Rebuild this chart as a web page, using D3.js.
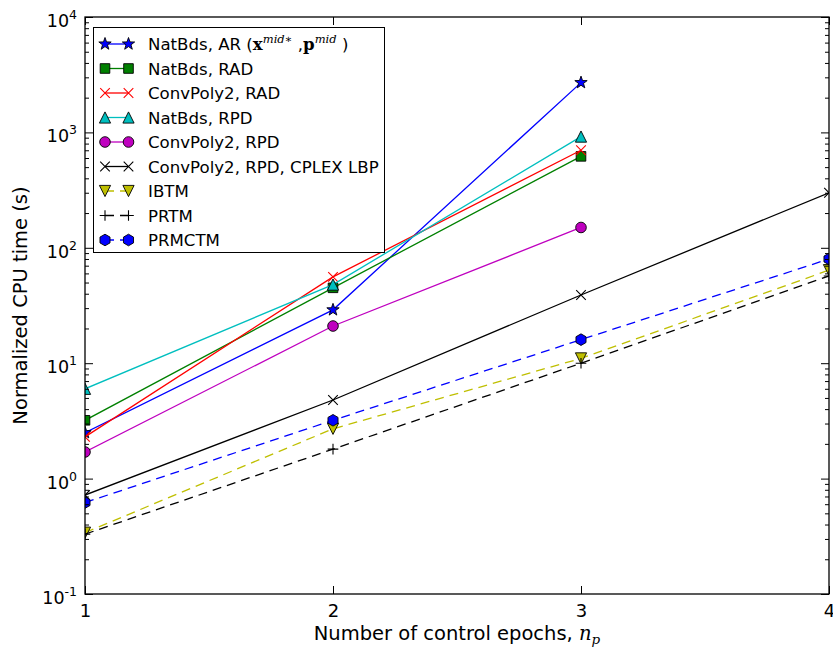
<!DOCTYPE html>
<html>
<head>
<meta charset="utf-8">
<script src="https://cdn.jsdelivr.net/npm/d3@7"></script>
<style>
  body { margin: 0; background: #fff; }
  text { font-family: "DejaVu Sans", sans-serif; fill: #000; }
</style>
</head>
<body>
<div class="chart"></div>
<script>
// CPU time vs number of control epochs, log scale

var svgWidth = 833;
var svgHeight = 650;

var margin = {
  top: 17,
  right: 4,
  bottom: 56,
  left: 85
};

var width = svgWidth - margin.left - margin.right;
var height = svgHeight - margin.top - margin.bottom;

// data
var epochs = [1, 2, 3, 4];
var natBdsAR = [2.5, 29, 2700];
var natBdsRAD = [3.2, 45, 620];
var convPoly2RAD = [2.3, 56, 700];
var natBdsRPD = [6.0, 48, 920];
var convPoly2RPD = [1.7, 21, 150];
var convPoly2Cplex = [0.72, 4.8, 39, 300];
var ibtm = [0.34, 2.7, 11, 64];
var prtm = [0.33, 1.8, 10, 57];
var prmctm = [0.62, 3.2, 16, 80];

var yMajorTicks = [0.1, 1, 10, 100, 1000, 10000];
var yTickExponents = ["-1", "0", "1", "2", "3", "4"];

var series = [
  {label: "NatBds, AR", values: natBdsAR, color: "#0000ff", marker: "star", dash: null},
  {label: "NatBds, RAD", values: natBdsRAD, color: "#008000", marker: "square", dash: null},
  {label: "ConvPoly2, RAD", values: convPoly2RAD, color: "#ff0000", marker: "x", dash: null},
  {label: "NatBds, RPD", values: natBdsRPD, color: "#00bfbf", marker: "triUp", dash: null},
  {label: "ConvPoly2, RPD", values: convPoly2RPD, color: "#bf00bf", marker: "circle", dash: null},
  {label: "ConvPoly2, RPD, CPLEX LBP", values: convPoly2Cplex, color: "#000000", marker: "x", dash: null},
  {label: "IBTM", values: ibtm, color: "#bfbf00", marker: "triDown", dash: "9,6"},
  {label: "PRTM", values: prtm, color: "#000000", marker: "plus", dash: "9,6"},
  {label: "PRMCTM", values: prmctm, color: "#0000ff", marker: "hexagon", dash: "9,6"}
];

var svg = d3.select(".chart")
  .append("svg")
  .attr("width", svgWidth)
  .attr("height", svgHeight);

svg.append("rect")
  .attr("width", svgWidth)
  .attr("height", svgHeight)
  .attr("fill", "#fff");

var chartGroup = svg.append("g")
  .attr("transform", `translate(${margin.left}, ${margin.top})`);

var xScale = d3.scaleLinear()
  .domain([1, 4])
  .range([0, width]);

var yScale = d3.scaleLog()
  .domain([0.1, 10000])
  .range([height, 0]);

// minor ticks 2..9 in every decade
var yMinorTicks = [];
yMajorTicks.slice(0, -1).forEach(function (d) {
  for (var k = 2; k < 10; k++) yMinorTicks.push(d * k);
});

svg.append("defs").append("clipPath")
  .attr("id", "plotClip")
  .append("rect")
  .attr("width", width)
  .attr("height", height);

// marker shapes
function markerPath(type) {
  var p = d3.path();
  var i, a, r;
  if (type == "circle") {
    p.arc(0, 0, 5.3, 0, 2 * Math.PI);
  } else if (type == "square") {
    p.rect(-4.8, -4.8, 9.6, 9.6);
  } else if (type == "triUp") {
    p.moveTo(0, -5.6); p.lineTo(-5.6, 5.6); p.lineTo(5.6, 5.6); p.closePath();
  } else if (type == "triDown") {
    p.moveTo(0, 5.6); p.lineTo(-5.6, -5.6); p.lineTo(5.6, -5.6); p.closePath();
  } else if (type == "hexagon") {
    for (i = 0; i < 6; i++) {
      a = -Math.PI / 2 + i * Math.PI / 3;
      if (i == 0) p.moveTo(5.8 * Math.cos(a), 5.8 * Math.sin(a));
      else p.lineTo(5.8 * Math.cos(a), 5.8 * Math.sin(a));
    }
    p.closePath();
  } else if (type == "star") {
    for (i = 0; i < 10; i++) {
      r = i % 2 == 0 ? 6.5 : 2.6;
      a = -Math.PI / 2 + i * Math.PI / 5;
      if (i == 0) p.moveTo(r * Math.cos(a), r * Math.sin(a));
      else p.lineTo(r * Math.cos(a), r * Math.sin(a));
    }
    p.closePath();
  } else if (type == "x") {
    p.moveTo(-4.8, -4.8); p.lineTo(4.8, 4.8);
    p.moveTo(-4.8, 4.8); p.lineTo(4.8, -4.8);
  } else if (type == "plus") {
    p.moveTo(-5.3, 0); p.lineTo(5.3, 0);
    p.moveTo(0, -5.3); p.lineTo(0, 5.3);
  }
  return p.toString();
}

function drawMarker(g, s, cx, cy) {
  var open = s.marker == "x" || s.marker == "plus";
  g.append("path")
    .attr("d", markerPath(s.marker))
    .attr("transform", `translate(${cx}, ${cy})`)
    .attr("fill", open ? "none" : s.color)
    .attr("stroke", open ? s.color : "#000")
    .attr("stroke-width", open ? 1.1 : 0.9);
}

// series lines and markers
var plotGroup = chartGroup.append("g")
  .attr("clip-path", "url(#plotClip)");

var line = d3.line()
  .x((d, i) => xScale(epochs[i]))
  .y(d => yScale(d));

series.forEach(function (s) {
  var g = plotGroup.append("g");
  g.append("path")
    .datum(s.values)
    .attr("d", line)
    .attr("fill", "none")
    .attr("stroke", s.color)
    .attr("stroke-width", 1.3)
    .attr("stroke-dasharray", s.dash);
  s.values.forEach(function (v, i) {
    drawMarker(g, s, xScale(epochs[i]), yScale(v));
  });
});

// axes: ticks pointing inward on all four sides
var leftAxis = d3.axisLeft(yScale).tickValues(yMajorTicks).tickSize(-8).tickFormat("");
var leftMinor = d3.axisLeft(yScale).tickValues(yMinorTicks).tickSize(-4).tickFormat("");
var rightAxis = d3.axisRight(yScale).tickValues(yMajorTicks).tickSize(-8).tickFormat("");
var rightMinor = d3.axisRight(yScale).tickValues(yMinorTicks).tickSize(-4).tickFormat("");
var bottomAxis = d3.axisBottom(xScale).tickValues(epochs).tickSize(-8).tickPadding(10).tickFormat(d3.format("d"));
var topAxis = d3.axisTop(xScale).tickValues(epochs).tickSize(-8).tickFormat("");

chartGroup.append("g").call(leftAxis);
chartGroup.append("g").call(leftMinor);
chartGroup.append("g").attr("transform", `translate(${width}, 0)`).call(rightAxis);
chartGroup.append("g").attr("transform", `translate(${width}, 0)`).call(rightMinor);
var xAxis = chartGroup.append("g")
  .attr("transform", `translate(0, ${height})`)
  .call(bottomAxis);
chartGroup.append("g").call(topAxis);

chartGroup.selectAll(".domain").remove();
chartGroup.selectAll(".tick line").attr("stroke", "#000").attr("stroke-width", 1);

xAxis.selectAll("text")
  .style("font-size", "18px")
  .style("font-family", "DejaVu Sans");

// y tick labels as 10 with exponent
chartGroup.selectAll(".ylab")
  .data(yMajorTicks)
  .enter()
  .append("text")
  .attr("class", "ylab")
  .attr("x", -8)
  .attr("y", d => yScale(d) + 10)
  .attr("text-anchor", "end")
  .style("font-size", "17.5px")
  .each(function (d, i) {
    var t = d3.select(this);
    t.append("tspan").text("10");
    t.append("tspan").attr("dy", -8).style("font-size", "12.5px").text(yTickExponents[i]);
  });

// frame
chartGroup.append("rect")
  .attr("width", width)
  .attr("height", height)
  .attr("fill", "none")
  .attr("stroke", "#000")
  .attr("stroke-width", 1.3);

// axis titles
var xTitle = svg.append("text")
  .attr("x", margin.left + width / 2)
  .attr("y", 640)
  .attr("text-anchor", "middle")
  .style("font-size", "19.5px");
xTitle.append("tspan").text("Number of control epochs, ");
xTitle.append("tspan").style("font-family", "DejaVu Serif").style("font-style", "italic").text("n");
xTitle.append("tspan").attr("dy", 4).style("font-family", "DejaVu Serif").style("font-style", "italic").style("font-size", "13.5px").text("p");

svg.append("text")
  .attr("transform", `translate(27, ${margin.top + height / 2}) rotate(-90)`)
  .attr("text-anchor", "middle")
  .style("font-size", "19.5px")
  .text("Normalized CPU time (s)");

// legend
var legend = svg.append("g");
legend.append("rect")
  .attr("x", 93.5)
  .attr("y", 27.5)
  .attr("width", 291)
  .attr("height", 225)
  .attr("fill", "#fff")
  .attr("stroke", "#000")
  .attr("stroke-width", 1);

series.forEach(function (s, i) {
  var cy = 44 + i * 24.5;
  var g = legend.append("g");
  g.append("line")
    .attr("x1", 105)
    .attr("x2", 128.5)
    .attr("y1", cy)
    .attr("y2", cy)
    .attr("stroke", s.color)
    .attr("stroke-width", 1.3)
    .attr("stroke-dasharray", s.dash);
  drawMarker(g, s, 105, cy);
  drawMarker(g, s, 128.5, cy);
  var t = g.append("text")
    .attr("x", 148)
    .attr("y", cy + 6)
    .style("font-size", "16.6px");
  t.append("tspan").text(s.label);
  if (i == 0) {
    // (x^{mid*}, p^{mid})
    t.append("tspan").text(" (");
    t.append("tspan").style("font-family", "DejaVu Serif").style("font-weight", "bold").text("x");
    t.append("tspan").attr("dy", -7).style("font-family", "DejaVu Serif").style("font-style", "italic").style("font-size", "11.5px").text("mid\u2217");
    t.append("tspan").attr("dy", 7).text(" ,");
    t.append("tspan").style("font-family", "DejaVu Serif").style("font-weight", "bold").text("p");
    t.append("tspan").attr("dy", -7).style("font-family", "DejaVu Serif").style("font-style", "italic").style("font-size", "11.5px").text("mid");
    t.append("tspan").attr("dy", 7).text(" )");
  }
});
</script>
</body>
</html>
